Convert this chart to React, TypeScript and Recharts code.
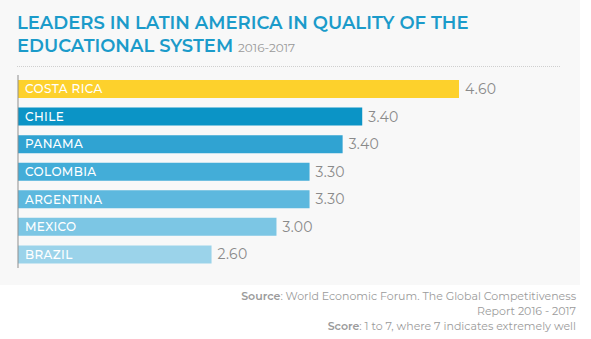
import { Bar, BarChart, Cell, LabelList, XAxis, YAxis } from "recharts";

const countries = [
  "COSTA RICA",
  "CHILE",
  "PANAMA",
  "COLOMBIA",
  "ARGENTINA",
  "MEXICO",
  "BRAZIL",
];

// bar lengths as drawn (score scale 1 to 7)
const rawScores = [4.6, 3.81, 3.65, 3.38, 3.38, 3.11, 2.58];

// values printed next to the bars
const printedScores = [4.6, 3.4, 3.4, 3.3, 3.3, 3.0, 2.6];

const barColors = [
  "#fdd12c",
  "#0b94c6",
  "#30a3d2",
  "#43add8",
  "#5db8de",
  "#7cc6e4",
  "#9bd3ea",
];

const data = countries.map((name, i) => ({
  name,
  value: rawScores[i],
  label: printedScores[i].toFixed(2),
}));

const font = "Montserrat, 'Open Sans', 'Noto Sans', sans-serif";

export default function App() {
  return (
    <div
      style={{
        position: "fixed",
        left: 0,
        top: 0,
        width: 591,
        height: 339,
        background: "#ffffff",
        fontFamily: font,
      }}
    >
      <div
        style={{
          position: "absolute",
          left: 0,
          top: 0,
          width: 580,
          height: 285,
          background: "#f8f8f8",
        }}
      />
      <div
        style={{
          position: "absolute",
          left: 17,
          top: 12,
          color: "#1b9bca",
          fontSize: 18,
          fontWeight: 600,
          lineHeight: "23px",
          whiteSpace: "nowrap",
        }}
      >
        LEADERS IN LATIN AMERICA IN QUALITY OF THE
        <br />
        EDUCATIONAL SYSTEM{" "}
        <span
          style={{
            color: "#9a9a9a",
            fontSize: 12,
            fontWeight: 400,
          }}
        >
          2016-2017
        </span>
      </div>
      <div
        style={{
          position: "absolute",
          left: 17,
          top: 66,
          width: 543,
          borderTop: "1px dotted #cfcfcf",
        }}
      />
      <div style={{ position: "absolute", left: 0, top: 0 }}>
        <BarChart
          width={580}
          height={285}
          data={data}
          layout="vertical"
          margin={{ top: 75, right: 72, bottom: 17, left: 0 }}
          barSize={18}
        >
          <XAxis type="number" domain={[1, 5]} hide />
          <YAxis
            type="category"
            dataKey="name"
            width={18}
            tick={false}
            tickLine={false}
            axisLine={{ stroke: "#8f8f8f", strokeWidth: 1 }}
          />
          <Bar dataKey="value" isAnimationActive={false}>
            {data.map((d, i) => (
              <Cell key={d.name} fill={barColors[i]} />
            ))}
            <LabelList
              dataKey="name"
              position="insideLeft"
              offset={7}
              fill="#ffffff"
              fontSize={12}
              fontWeight={500}
              letterSpacing={0.4}
              fontFamily={font}
            />
            <LabelList
              dataKey="label"
              position="right"
              offset={6}
              fill="#8a8a8a"
              fontSize={14}
              letterSpacing={0.3}
              fontFamily={font}
            />
          </Bar>
        </BarChart>
      </div>
      <div
        style={{
          position: "absolute",
          right: 15,
          top: 289,
          textAlign: "right",
          color: "#9b9b9b",
          fontSize: 11,
          lineHeight: "15px",
          whiteSpace: "nowrap",
        }}
      >
        <b style={{ fontWeight: 600 }}>Source</b>: World Economic Forum. The
        Global Competitiveness
        <br />
        Report 2016 - 2017
        <br />
        <b style={{ fontWeight: 600 }}>Score</b>: 1 to 7, where 7 indicates
        extremely well
      </div>
    </div>
  );
}
